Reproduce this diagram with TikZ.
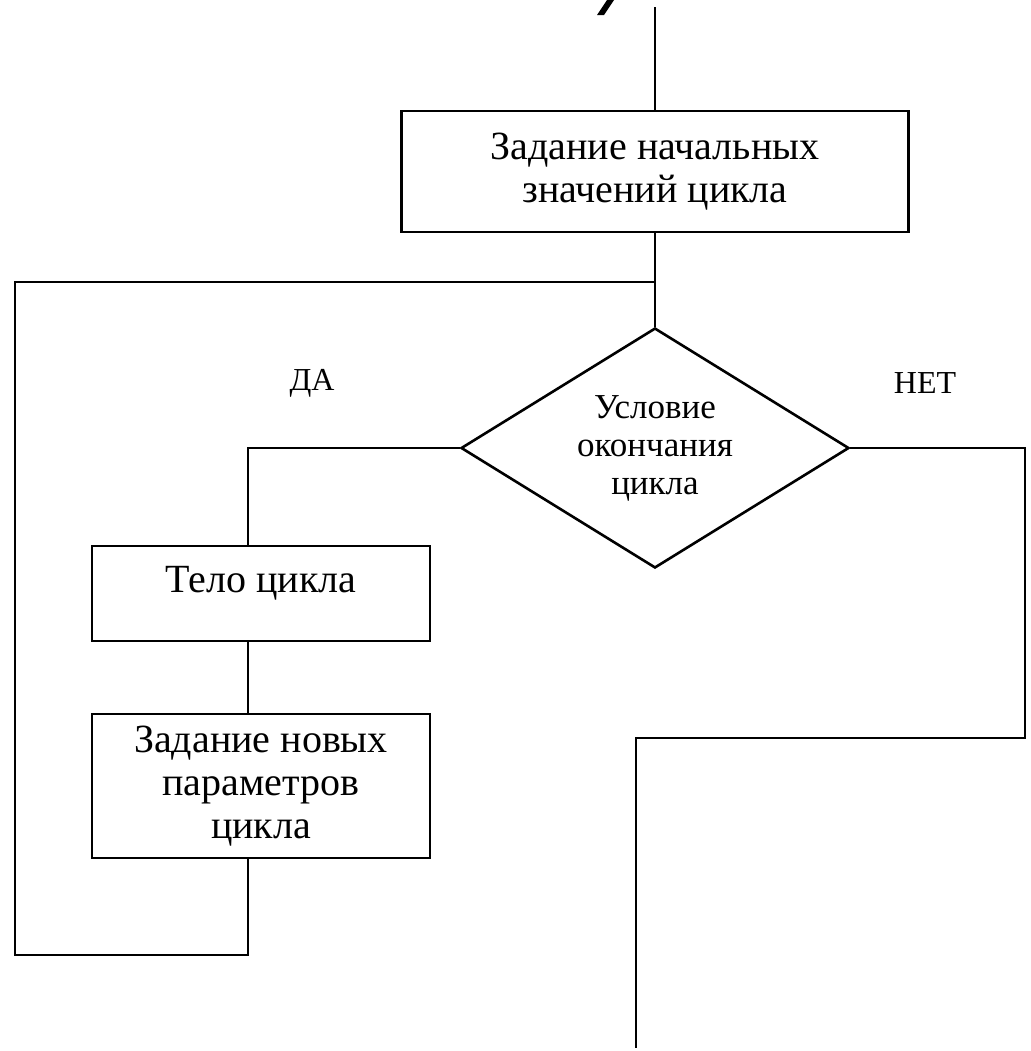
\documentclass[tikz,border=0pt]{standalone}
\usepackage{fontspec}
\setmainfont{Liberation Serif}
\usetikzlibrary{shapes.geometric}

\begin{document}
\begin{tikzpicture}[x=0.5pt,y=-0.5pt,line width=1.3pt,
    blok/.style={draw, rectangle, inner sep=0pt, align=center, font=\fontsize{20}{21.5}\selectfont},
    uslovie/.style={draw, diamond, inner sep=0pt, aspect=1.6, align=center, font=\fontsize{17.5}{19}\selectfont},
    metka/.style={font=\fontsize{16}{18}\selectfont}]
  \useasboundingbox (0,0) rectangle (1030,1051);

  % Blocks of the loop
  \node[blok, minimum width=253.5pt, minimum height=60.5pt] (nach) at (655,171.5) {Задание начальных\\значений цикла};
  \node[uslovie, minimum width=194pt, minimum height=120pt] (usl) at (655,448) {Условие\\окончания\\цикла};
  \node[blok, minimum width=169pt, minimum height=47.5pt, text depth=14pt] (telo) at (261,593.5) {Тело цикла};
  \node[blok, minimum width=169pt, minimum height=72pt] (novye) at (261,786) {Задание новых\\параметров\\цикла};

  % Branch labels
  \node[metka] (da) at (312,383) {ДА};
  \node[metka] (net) at (925,383) {НЕТ};

  % Free ends of the lines
  \coordinate (vhod) at (655,7);
  \coordinate (vozvr) at (655,282);
  \coordinate (lev) at (15,282);
  \coordinate (niz) at (248,955);
  \coordinate (prav) at (1025,738);
  \coordinate (vyhod) at (636,1048);

  % Lines
  \draw (vhod) -- (nach.north);
  \draw (nach.south) -- (usl.north);
  \draw (usl.west) -| ([xshift=-6.5pt]telo.north);
  \draw ([xshift=-6.5pt]telo.south) -- ([xshift=-6.5pt]novye.north);
  \draw ([xshift=-6.5pt]novye.south) -- (niz) -| (lev) -- (vozvr);
  \draw (usl.east) -| (prav) -| (vyhod);

  % Cut-off piece of the title
  \fill (597,15) -- (604,15) -- (614,0) -- (607,0) -- cycle;
\end{tikzpicture}
\end{document}
